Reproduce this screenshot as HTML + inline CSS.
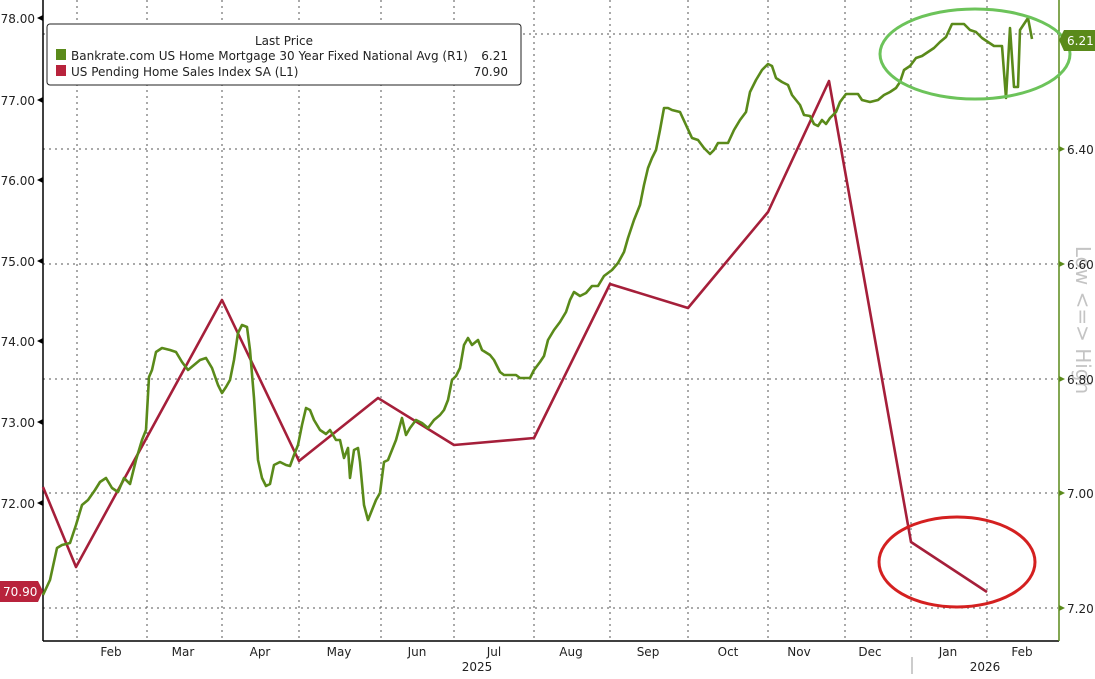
<!DOCTYPE html>
<html><head><meta charset="utf-8"><style>
html,body{margin:0;padding:0;background:#fff;}
svg text{font-family:"DejaVu Sans","Liberation Sans",sans-serif;}
</style></head><body>
<svg width="1095" height="674" viewBox="0 0 1095 674" xmlns="http://www.w3.org/2000/svg">
<rect width="1095" height="674" fill="#fff"/>
<g stroke="#555" stroke-width="1" stroke-dasharray="2,4">
<line x1="77" y1="0" x2="77" y2="640"/><line x1="147" y1="0" x2="147" y2="640"/>
<line x1="222" y1="0" x2="222" y2="640"/><line x1="299" y1="0" x2="299" y2="640"/>
<line x1="381" y1="0" x2="381" y2="640"/><line x1="454" y1="0" x2="454" y2="640"/>
<line x1="534" y1="0" x2="534" y2="640"/><line x1="610" y1="0" x2="610" y2="640"/>
<line x1="688" y1="0" x2="688" y2="640"/><line x1="768" y1="0" x2="768" y2="640"/>
<line x1="845" y1="0" x2="845" y2="640"/><line x1="911" y1="0" x2="911" y2="640"/>
<line x1="987" y1="0" x2="987" y2="640"/>
<line x1="43" y1="34" x2="1058" y2="34"/><line x1="43" y1="149" x2="1058" y2="149"/>
<line x1="43" y1="264" x2="1058" y2="264"/><line x1="43" y1="379" x2="1058" y2="379"/>
<line x1="43" y1="493" x2="1058" y2="493"/><line x1="43" y1="608" x2="1058" y2="608"/>
</g>
<line x1="43" y1="0" x2="43" y2="641" stroke="#000" stroke-width="1.5"/>
<line x1="43" y1="641" x2="1059" y2="641" stroke="#000" stroke-width="1.5"/>
<line x1="1059" y1="0" x2="1059" y2="641" stroke="#5a8a1a" stroke-width="1.5"/>
<g font-size="12" fill="#222" text-anchor="end">
<text x="35" y="23">78.00</text><text x="35" y="105">77.00</text><text x="35" y="185">76.00</text>
<text x="35" y="266">75.00</text><text x="35" y="346">74.00</text><text x="35" y="427">73.00</text>
<text x="35" y="508">72.00</text>
</g>
<g fill="#000">
<polygon points="37,18 43,15 43,21"/><polygon points="37,100 43,97 43,103"/><polygon points="37,180 43,177 43,183"/>
<polygon points="37,261 43,258 43,264"/><polygon points="37,341 43,338 43,344"/><polygon points="37,422 43,419 43,425"/>
<polygon points="37,503 43,500 43,506"/>
</g>
<text transform="translate(1076,320) rotate(90)" font-size="20" fill="#c4c4c4" text-anchor="middle">Low &lt;=&gt; High</text>
<g font-size="12" fill="#222">
<text x="1067" y="154">6.40</text><text x="1067" y="269">6.60</text><text x="1067" y="384">6.80</text>
<text x="1067" y="498">7.00</text><text x="1067" y="613">7.20</text>
</g>
<g fill="#5a8a1a">
<polygon points="1065,149 1059,146 1059,152"/><polygon points="1065,264 1059,261 1059,267"/>
<polygon points="1065,379 1059,376 1059,382"/><polygon points="1065,493 1059,490 1059,496"/>
<polygon points="1065,608 1059,605 1059,611"/>
</g>
<g font-size="12" fill="#222" text-anchor="middle">
<text x="111" y="656">Feb</text><text x="183" y="656">Mar</text><text x="260" y="656">Apr</text>
<text x="339" y="656">May</text><text x="417" y="656">Jun</text><text x="494" y="656">Jul</text>
<text x="571" y="656">Aug</text><text x="648" y="656">Sep</text><text x="728" y="656">Oct</text>
<text x="799" y="656">Nov</text><text x="870" y="656">Dec</text><text x="948" y="656">Jan</text>
<text x="1022" y="656">Feb</text><text x="477" y="671">2025</text><text x="985" y="671">2026</text>
</g>
<line x1="912" y1="657" x2="912" y2="674" stroke="#999"/>
<polyline fill="none" stroke="#a51f3a" stroke-width="2.6" stroke-linejoin="round" points="43,487 76,567 222,300 299,461 378,398 454,445 534,438 610,284 688,308 768,212 829,81 911,542 987,592"/>
<polyline fill="none" stroke="#5a8a1a" stroke-width="2.6" stroke-linejoin="round" points="43,595 50,580 57,548 62,545 70,543 76,525 82,505 88,500 95,490 100,482 106,478 112,488 118,492 124,478 130,484 136,460 142,440 146,430 149,377 152,370 156,352 162,348 170,350 176,352 182,362 188,370 194,365 200,360 206,358 212,368 218,385 222,393 226,387 230,380 234,360 238,333 242,325 247,327 250,350 254,398 258,460 262,478 266,486 270,484 274,465 280,462 286,465 290,466 294,455 298,445 302,425 306,408 310,410 314,420 320,430 326,434 330,430 336,440 340,440 344,458 348,448 350,478 354,450 358,448 360,462 364,505 368,520 372,510 376,500 380,493 384,462 388,460 392,450 396,440 402,418 406,435 410,428 416,420 422,423 428,428 434,420 440,415 444,410 448,400 452,380 456,376 460,368 464,345 468,338 472,345 478,340 482,350 490,355 494,360 500,372 504,375 510,375 516,375 520,378 524,378 530,378 534,370 540,362 544,356 548,340 554,330 560,322 566,312 570,300 574,292 580,296 586,293 592,286 598,286 604,276 612,270 618,263 624,252 628,238 634,220 640,205 644,185 648,168 652,158 656,150 660,130 664,108 668,108 672,110 680,112 686,125 692,138 698,140 704,148 710,154 714,150 718,143 724,143 728,143 734,130 740,120 746,112 750,92 756,80 762,70 768,64 772,66 776,78 782,82 788,85 792,95 796,100 800,105 804,115 810,116 814,124 818,126 822,120 826,124 830,118 836,112 840,102 846,94 852,94 858,94 862,100 870,102 878,100 884,95 890,92 896,88 900,82 904,70 910,66 916,58 922,56 928,52 934,48 940,42 946,37 952,24 964,24 970,30 976,32 982,38 988,42 994,46 1002,46 1006,98 1010,28 1014,87 1018,87 1020,30 1028,18 1032,39"/>
<ellipse cx="975" cy="54" rx="95" ry="45" fill="none" stroke="#6cc35a" stroke-width="3"/>
<ellipse cx="957" cy="562" rx="78" ry="45" fill="none" stroke="#d42020" stroke-width="3"/>
<rect x="47" y="24" width="474" height="61" rx="3" fill="#fff" stroke="#222" stroke-width="1"/>
<text x="284" y="45" font-size="12" fill="#222" text-anchor="middle">Last Price</text>
<rect x="56" y="49" width="10" height="11" fill="#5a8a1a"/>
<rect x="56" y="65" width="10" height="11" fill="#b8233c"/>
<text x="71" y="60" font-size="12" fill="#222">Bankrate.com US Home Mortgage 30 Year Fixed National Avg  (R1)</text>
<text x="508" y="60" font-size="12" fill="#222" text-anchor="end">6.21</text>
<text x="71" y="76" font-size="12" fill="#222">US Pending Home Sales Index SA  (L1)</text>
<text x="508" y="76" font-size="12" fill="#222" text-anchor="end">70.90</text>
<polygon points="0,581 38,581 43,591 38,602 0,602" fill="#b8233c"/>
<text x="3" y="596" font-size="12" fill="#fff">70.90</text>
<polygon points="1059,40 1064,30 1095,30 1095,51 1064,51" fill="#5a8a1a"/>
<text x="1067" y="45" font-size="12" fill="#fff">6.21</text>
</svg>
</body></html>
